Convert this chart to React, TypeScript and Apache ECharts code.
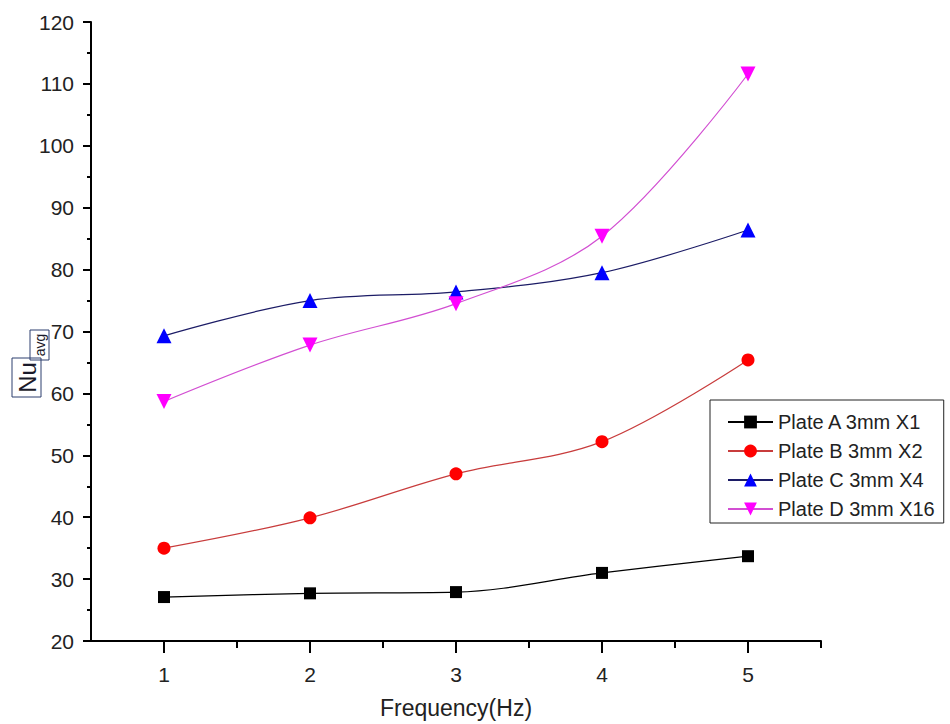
import React, { useEffect, useRef } from "react";
import * as echarts from "echarts";

const frequency = [1, 2, 3, 4, 5];
const plateA = [27.1, 27.7, 27.9, 31.0, 33.7];
const plateB = [35.0, 39.9, 47.0, 52.2, 65.4];
const plateC = [69.3, 75.0, 76.4, 79.5, 86.4];
const plateD = [58.7, 67.8, 74.5, 85.4, 111.6];
const seriesNames = ["Plate A 3mm X1", "Plate B 3mm X2", "Plate C 3mm X4", "Plate D 3mm X16"];
const xLabels = [1, 2, 3, 4, 5];
const xHalfTicks = [1.5, 2.5, 3.5, 4.5, 5.5];

const FONT = "'Liberation Sans', Arial, sans-serif";

function pairs(vals: number[]) {
  return frequency.map((f, i) => [f, vals[i]]);
}

export default function App() {
  const ref = useRef<HTMLDivElement>(null);
  useEffect(() => {
    if (!ref.current) return;
    const chart = echarts.init(ref.current, undefined, { renderer: "svg" });
    const mk = (
      name: string,
      vals: number[],
      symbol: string,
      size: number,
      markerColor: string,
      lineColor: string,
      rotate = 0
    ) => ({
      name,
      type: "line",
      data: pairs(vals),
      smooth: 0.35,
      symbol,
      symbolSize: size,
      symbolRotate: rotate,
      showAllSymbol: true,
      itemStyle: { color: markerColor, borderWidth: 0 },
      lineStyle: { color: lineColor, width: 1.2 },
      z: 3,
    });
    chart.setOption({
      animation: false,
      backgroundColor: "#ffffff",
      textStyle: { fontFamily: FONT },
      grid: { left: 91, right: 129, top: 22, bottom: 79, containLabel: false },
      legend: {
        orient: "vertical",
        left: 710,
        top: 400,
        padding: [12, 9, 4, 17],
        itemWidth: 45,
        itemHeight: 16,
        itemGap: 9,
        borderColor: "#222",
        borderWidth: 1,
        textStyle: { fontSize: 20, color: "#222", fontFamily: FONT },
        data: seriesNames,
      },
      xAxis: [
        {
          type: "value",
          min: 0.5,
          max: 5.5,
          name: "Frequency(Hz)",
          nameLocation: "middle",
          nameGap: 55,
          nameTextStyle: { fontSize: 23, color: "#222", fontFamily: FONT },
          axisLine: { show: true, lineStyle: { color: "#000", width: 2 } },
          axisTick: { show: true, inside: false, length: 12, lineStyle: { color: "#000", width: 2 }, customValues: xLabels },
          axisLabel: { fontSize: 21, color: "#222", margin: 23, customValues: xLabels, fontFamily: FONT },
          splitLine: { show: false },
        },
        {
          type: "value",
          min: 0.5,
          max: 5.5,
          position: "bottom",
          axisLine: { show: false },
          axisTick: { show: true, inside: false, length: 7, lineStyle: { color: "#000", width: 2 }, customValues: xHalfTicks },
          axisLabel: { show: false },
          splitLine: { show: false },
        },
      ],
      yAxis: {
        type: "value",
        min: 20,
        max: 120,
        interval: 10,
        axisLine: { show: true, lineStyle: { color: "#000", width: 2 } },
        axisTick: { show: true, inside: false, length: 8, lineStyle: { color: "#000", width: 2 } },
        minorTick: { show: true, splitNumber: 2, length: 4, lineStyle: { color: "#000", width: 2 } },
        axisLabel: { fontSize: 21, color: "#222", margin: 17, fontFamily: FONT },
        splitLine: { show: false },
      },
      series: [
        mk(seriesNames[0], plateA, "rect", 12, "#000000", "#000000"),
        mk(seriesNames[1], plateB, "circle", 13, "#ff0000", "#c83c3c"),
        mk(seriesNames[2], plateC, "triangle", 15, "#0000ff", "#1c1c66"),
        mk(seriesNames[3], plateD, "triangle", 15, "#ff00ff", "#d24fd2", 180),
      ],
      graphic: [
        {
          type: "rect",
          shape: { x: 12, y: 358, width: 29, height: 39 },
          style: { fill: "none", stroke: "#2c3e6e", lineWidth: 1 },
        },
        {
          type: "text",
          x: 27,
          y: 377.5,
          rotation: Math.PI / 2,
          style: { text: "Nu", fontSize: 24, fontFamily: FONT, fill: "#1a1a2a", align: "center", verticalAlign: "middle" },
        },
        {
          type: "rect",
          shape: { x: 30, y: 330, width: 19, height: 30 },
          style: { fill: "none", stroke: "#2c3e6e", lineWidth: 1 },
        },
        {
          type: "text",
          x: 40,
          y: 345,
          rotation: Math.PI / 2,
          style: { text: "avg", fontSize: 14, fontFamily: FONT, fill: "#1a1a2a", align: "center", verticalAlign: "middle" },
        },
      ],
    });
    return () => chart.dispose();
  }, []);
  return (
    <div
      ref={ref}
      style={{ position: "fixed", left: 0, top: 0, width: 950, height: 724, background: "#fff" }}
    />
  );
}
